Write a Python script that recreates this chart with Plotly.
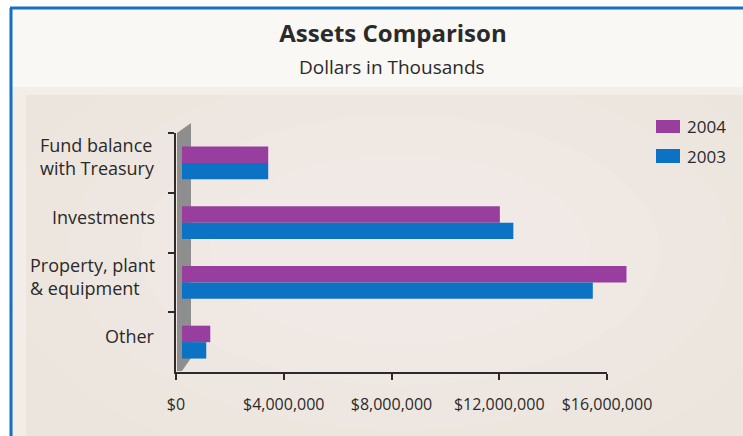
import plotly.graph_objects as go

# ---- data -------------------------------------------------------------
categories = ["Fund balance", "Investments", "Property", "Other"]
category_labels = [
    "Fund balance<br>with Treasury",
    "Investments",
    "Property, plant<br>& equipment",
    "Other",
]
series_names = ["2004", "2003"]
values_2004 = [3_200_000, 11_800_000, 16_500_000, 1_050_000]
values_2003 = [3_200_000, 12_300_000, 15_250_000, 900_000]
tick_values = [0, 4_000_000, 8_000_000, 12_000_000, 16_000_000]
tick_labels = ["$0", "$4,000,000", "$8,000,000", "$12,000,000", "$16,000,000"]

# ---- styling ----------------------------------------------------------
W, H = 743, 436
FONT = "Open Sans"
TEXT = "#2a2a2a"
PURPLE = "#973e9f"
BLUE = "#0b72c4"
BORDER = "#1670c2"
BEIGE = "#ece5dd"
AXIS = "#2b2b2b"


def fx(px):
    return px / W


def fy(py):
    return 1 - py / H


fig = go.Figure()

# empty trace so the main x/y subplot (which carries the visible axes) is built
fig.add_trace(go.Scatter(x=[], y=[], xaxis="x", yaxis="y", showlegend=False,
                         hoverinfo="skip"))

for name, vals, color in [
    (series_names[0], values_2004, PURPLE),
    (series_names[1], values_2003, BLUE),
]:
    fig.add_trace(
        go.Bar(
            name=name,
            y=categories,
            x=vals,
            orientation="h",
            marker=dict(color=color, line=dict(width=0)),
            xaxis="x2",
            yaxis="y",
            showlegend=False,
        )
    )

shapes = [
    # white margin outside the frame
    dict(type="rect", xref="paper", yref="paper", x0=0, x1=fx(10), y0=0, y1=1,
         fillcolor="white", line=dict(width=0), layer="below"),
    dict(type="rect", xref="paper", yref="paper", x0=0, x1=1, y0=fy(7), y1=1,
         fillcolor="white", line=dict(width=0), layer="below"),
]
# soft light glow in the middle of the chart panel
for rx, ry in [(400, 230), (330, 180), (260, 135), (190, 95)]:
    cx, cy = 400, 250
    shapes.append(
        dict(type="circle", xref="paper", yref="paper",
             x0=fx(cx - rx), x1=fx(cx + rx), y0=fy(cy + ry), y1=fy(cy - ry),
             fillcolor="white", opacity=0.07, line=dict(width=0), layer="below")
    )
shapes += [
    dict(type="rect", xref="paper", yref="paper", x0=fx(13), x1=fx(26), y0=0, y1=fy(87),
         fillcolor="white", opacity=0.3, line=dict(width=0), layer="below"),
    # title panel
    dict(type="rect", xref="paper", yref="paper", x0=fx(12), x1=1, y0=fy(87), y1=fy(9),
         fillcolor="#faf8f5", line=dict(width=0), layer="below"),
    dict(type="rect", xref="paper", yref="paper", x0=fx(12), x1=1, y0=fy(95), y1=fy(87),
         fillcolor="#f3eee8", line=dict(width=0), layer="below"),
    # frame lines
    dict(type="line", xref="paper", yref="paper", x0=fx(11), x1=fx(11), y0=0, y1=fy(8),
         line=dict(color=BORDER, width=3), layer="below"),
    dict(type="line", xref="paper", yref="paper", x0=fx(10), x1=1, y0=fy(8), y1=fy(8),
         line=dict(color=BORDER, width=3), layer="below"),
    # grey side wall behind the bars
    dict(type="path", xref="paper", yref="paper",
         path=(f"M {fx(177)},{fy(133)} L {fx(191)},{fy(123)} L {fx(191)},{fy(358)} "
               f"L {fx(182)},{fy(371)} L {fx(177)},{fy(371)} Z"),
         fillcolor="#8e8e8e", line=dict(width=0), layer="below"),
    # legend swatches
    dict(type="rect", xref="paper", yref="paper", x0=fx(656), x1=fx(680), y0=fy(133), y1=fy(120),
         fillcolor=PURPLE, line=dict(width=0)),
    dict(type="rect", xref="paper", yref="paper", x0=fx(656), x1=fx(680), y0=fy(163), y1=fy(149),
         fillcolor=BLUE, line=dict(width=0)),
]

annotations = [
    dict(text="Dollars in Thousands", xref="paper", yref="paper", x=fx(392), y=fy(67),
         xanchor="center", yanchor="middle", showarrow=False,
         font=dict(family=FONT, size=19, color=TEXT)),
    dict(text=series_names[0], xref="paper", yref="paper", x=fx(685), y=fy(127),
         xanchor="left", yanchor="middle", showarrow=False,
         font=dict(family=FONT, size=17, color=TEXT)),
    dict(text=series_names[1], xref="paper", yref="paper", x=fx(685), y=fy(156),
         xanchor="left", yanchor="middle", showarrow=False,
         font=dict(family=FONT, size=17, color=TEXT)),
]
for cat, label in zip(categories, category_labels):
    annotations.append(
        dict(text=label, xref="paper", yref="y", x=fx(157), y=cat,
             xanchor="right", yanchor="middle", align="left", yshift=6,
             showarrow=False, font=dict(family=FONT, size=18, color=TEXT))
    )

fig.update_layout(
    width=W,
    height=H,
    margin=dict(l=0, r=0, t=0, b=0, autoexpand=False),
    paper_bgcolor=BEIGE,
    plot_bgcolor="rgba(0,0,0,0)",
    font=dict(family=FONT, color=TEXT),
    title=dict(text="<b>Assets Comparison</b>", x=fx(393), xanchor="center",
               y=fy(34), yanchor="middle", yref="paper",
               font=dict(family=FONT, size=24, color=TEXT)),
    barmode="group",
    bargap=0.45,
    bargroupgap=0,
    xaxis=dict(
        domain=[fx(176), fx(607)],
        range=[0, 16_000_000],
        anchor="y",
        automargin=False,
        tickmode="array",
        tickvals=tick_values,
        ticktext=tick_labels,
        ticks="outside",
        ticklen=6,
        tickcolor=AXIS,
        tickwidth=1.5,
        showline=True,
        linecolor=AXIS,
        linewidth=1.5,
        showgrid=False,
        zeroline=False,
        tickfont=dict(family=FONT, size=16, color=TEXT),
        ticklabelstandoff=11,
    ),
    xaxis2=dict(
        domain=[fx(182), fx(182 + 17 * 431 / 16)],
        range=[0, 17_000_000],
        anchor="y",
        automargin=False,
        visible=False,
        showgrid=False,
        zeroline=False,
    ),
    yaxis=dict(
        domain=[fy(372), fy(133)],
        anchor="x",
        automargin=False,
        type="category",
        categoryorder="array",
        categoryarray=categories,
        autorange="reversed",
        showticklabels=False,
        ticks="outside",
        tickson="boundaries",
        ticklen=6,
        tickcolor=AXIS,
        tickwidth=1.5,
        showline=True,
        linecolor=AXIS,
        linewidth=1.5,
        showgrid=False,
        zeroline=False,
    ),
    shapes=shapes,
    annotations=annotations,
)

fig.write_html("out.html")
